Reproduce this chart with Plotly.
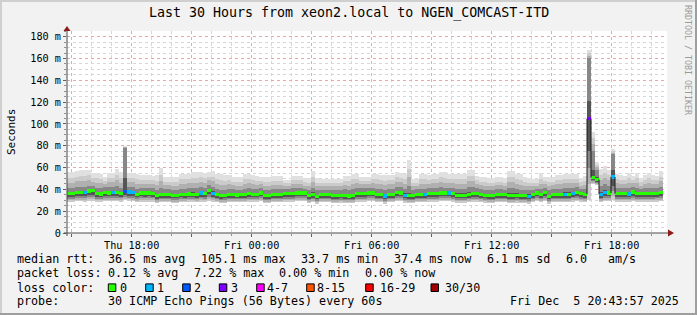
import plotly.graph_objects as go
import pandas as pd

# ---------------- data ----------------
START = "2025-12-04 14:46"
END = "2025-12-05 20:46"
STEP_MIN = 12

# median rtt per 12-minute step (ms)
med = [36.0, 36.0, 37.0, 37.2, 37.0, 38.5, 38.8, 36.0, 35.8, 37.0,
       36.8, 37.0, 37.2, 36.5, 38.0, 37.6, 37.4, 35.6, 36.8, 36.6,
       36.8, 36.4, 34.2, 35.2, 35.4, 35.0, 34.4, 34.4, 35.6, 35.4,
       35.8, 35.6, 35.2, 36.6, 36.0, 39.2, 36.4, 35.0, 34.2, 34.4,
       35.0, 35.2, 34.8, 35.0, 35.4, 36.0, 35.5, 35.5, 36.7, 34.3,
       34.3, 35.5, 35.5, 35.5, 36.1, 36.1, 36.1, 36.7, 36.7, 36.7,
       34.3, 35.5, 33.7, 35.2, 35.2, 35.2, 34.3, 34.3, 34.6, 34.3,
       34.0, 34.3, 36.1, 36.1, 36.0, 36.7, 36.7, 35.5, 35.5, 33.9,
       35.2, 35.2, 37.3, 36.7, 34.6, 34.3, 34.3, 35.5, 35.5, 35.2,
       36.1, 36.1, 36.1, 36.7, 36.7, 36.7, 36.1, 34.6, 34.6, 34.6,
       35.5, 36.1, 36.1, 35.2, 34.6, 34.3, 34.3, 35.2, 35.2, 35.2,
       34.3, 34.3, 34.6, 34.3, 34.3, 33.8, 35.0, 36.7, 35.2, 37.3,
       33.7, 35.5, 35.5, 35.5, 35.5, 35.5, 36.4, 37.3, 36.0, 35.5,
       104.8, 50.8, 49.0, 35.5, 37.2, 36.7, 51.4, 36.1, 36.1, 36.1,
       35.8, 37.5, 36.1, 36.1, 36.1, 36.1, 36.1, 36.4, 37.4]

# fastest ping per step (ms)
lo = [28.5, 28.5, 29, 29, 28.5, 29.5, 29.5, 28.5, 28.5, 29,
      29, 29, 29, 28.5, 30, 29, 29, 28, 28.5, 28.5,
      28.5, 28.5, 27.5, 28, 28, 28, 27.5, 27.5, 28, 28,
      28.5, 28.5, 28, 28.5, 28.5, 29.5, 28.5, 28, 27.5, 27.5,
      28, 28, 28, 28, 28, 28.5, 28.5, 28.5, 29, 27.5,
      27.5, 28, 28, 28, 28.5, 28.5, 28.5, 29, 29, 29,
      27.5, 28, 27, 28, 28, 28, 27.5, 27.5, 27.5, 27.5,
      27.5, 27.5, 28.5, 28.5, 28.5, 29, 29, 28, 28, 27,
      28, 28, 29, 29, 27.5, 27.5, 27.5, 28, 28, 28,
      28.5, 28.5, 28.5, 29, 29, 29, 28.5, 27.5, 27.5, 27.5,
      28, 28.5, 28.5, 28, 27.5, 27.5, 27.5, 28, 28, 28,
      27.5, 27.5, 27.5, 27.5, 27.5, 27, 28, 29, 28, 29,
      27, 28, 28, 28, 28, 28, 28.5, 29, 28.5, 28,
      30, 45, 44, 28, 29, 29, 30, 28.5, 28.5, 28.5,
      28.5, 29, 28.5, 28.5, 28.5, 28.5, 28.5, 28.5, 29]

# upper edge of the dense (mid-grey) part of the smoke (ms)
up = [41, 41, 42, 42, 42, 43, 43, 41, 41, 42,
      42, 42, 43, 41, 78, 42, 42, 40, 41, 41,
      41, 41, 39, 41, 40, 40, 39, 39, 40, 40,
      41, 41, 41, 42, 41, 44, 42, 40, 39, 39,
      40, 40, 39, 39, 40, 41, 40, 40, 41, 39,
      39, 40, 40, 40, 40, 40, 41, 41, 41, 40,
      39, 41, 39, 39, 39, 39, 39, 39, 39, 40,
      39, 40, 41, 41, 41, 41, 41, 40, 40, 39,
      40, 40, 42, 42, 40, 43, 39, 40, 40, 40,
      41, 41, 41, 42, 41, 41, 41, 40, 40, 40,
      42, 42, 41, 40, 39, 39, 39, 40, 40, 39,
      41, 41, 40, 39, 39, 39, 39, 40, 40, 41,
      39, 40, 40, 40, 41, 41, 41, 42, 40, 40,
      160, 75, 58, 43, 45, 43, 72, 41, 41, 41,
      41, 42, 41, 40, 41, 41, 41, 41, 42]

# slowest ping per step (ms)
hi = [56, 56, 57, 58, 58, 58, 55, 55, 54, 51,
      55, 55, 59, 56, 80, 55, 55, 54, 53, 53,
      53, 52, 53, 59.5, 51, 51, 51, 51, 54, 54,
      54, 56, 56, 56, 55, 56, 57, 54, 54, 53,
      53, 51, 51, 51, 54, 54, 53, 52, 51, 51,
      51, 52, 52, 52, 48.5, 48.5, 52, 52, 52, 50,
      50, 57, 50, 49.5, 49.5, 49.5, 49.5, 49.5, 49.5, 52,
      52, 54, 54, 51, 51, 51, 54, 54, 53, 53,
      53, 53, 56, 55, 54, 67, 49.5, 49.5, 54, 54,
      53, 54, 54, 56, 56, 54, 54, 54, 54, 54,
      58, 58, 52, 51, 51, 50, 50, 51, 51, 50,
      57, 57, 54, 54, 51, 50, 49.5, 49.5, 55, 51,
      51, 51, 53, 53, 54, 54, 54, 54, 50, 52,
      167.5, 93, 64, 59, 61, 58, 76.7, 54, 53, 52,
      55, 52, 55, 50, 53, 55, 53, 52, 57]

# lost pings (of 30) per step
loss = [0, 0, 0, 0, 1, 0, 0, 0, 0, 0,
        0, 1, 0, 0, 2, 1, 1, 0, 0, 0,
        0, 0, 0, 0, 0, 0, 0, 0, 0, 0,
        0, 0, 0, 1, 0, 0, 1, 0, 0, 0,
        0, 0, 0, 0, 0, 0, 0, 0, 0, 0,
        0, 0, 0, 0, 0, 0, 0, 0, 0, 0,
        0, 0, 0, 0, 0, 0, 0, 0, 0, 0,
        0, 0, 0, 0, 0, 0, 0, 0, 0, 1,
        0, 0, 0, 0, 1, 0, 0, 0, 0, 1,
        0, 0, 0, 0, 0, 1, 0, 0, 0, 0,
        0, 0, 0, 0, 0, 0, 0, 0, 0, 0,
        0, 0, 0, 0, 0, 1, 0, 0, 0, 0,
        0, 0, 0, 0, 1, 0, 1, 0, 0, 0,
        3, 0, 0, 1, 1, 0, 1, 0, 0, 0,
        1, 0, 0, 0, 0, 0, 0, 0, 0]

loss_labels = ["0", "1", "2", "3", "4-7", "8-15", "16-29", "30/30"]
loss_colors = ["#26ff00", "#00b8ff", "#0059ff", "#7e00ff", "#ff00ff", "#ff5500", "#ff0000", "#a00000"]

y_tickvals = [0, 20, 40, 60, 80, 100, 120, 140, 160, 180]
y_ticktext = ["0", "20 m", "40 m", "60 m", "80 m", "100 m", "120 m", "140 m", "160 m", "180 m"]
x_tickvals = ["2025-12-04 15:00", "2025-12-04 18:00", "2025-12-04 21:00", "2025-12-05 00:00",
              "2025-12-05 03:00", "2025-12-05 06:00", "2025-12-05 09:00", "2025-12-05 12:00",
              "2025-12-05 15:00", "2025-12-05 18:00"]
x_ticktext = ["", "Thu 18:00", "", "Fri 00:00", "", "Fri 06:00", "", "Fri 12:00", "", "Fri 18:00"]

TITLE = "Last 30 Hours from xeon2.local to NGEN_COMCAST-ITD"
legend_rows = [
    [("median rtt:", 16), ("36.5 ms avg", 107.3), ("105.1 ms max", 200.5), ("33.7 ms min", 300.5),
     ("37.4 ms now", 393.3), ("6.1 ms sd", 486), ("6.0", 565), ("am/s", 607.5)],
    [("packet loss:", 16), ("0.12 % avg", 107.3), ("7.22 % max", 193), ("0.00 % min", 278.8),
     ("0.00 % now", 364.8)],
    [("loss color:", 16)],
    [("probe:", 16), ("30 ICMP Echo Pings (56 Bytes) every 60s", 107.3)],
]
STAMP = "Fri Dec\u00a0 5 20:43:57 2025"

assert len(med) == len(lo) == len(up) == len(hi) == len(loss)

# ---------------- geometry ----------------
W, H = 697, 315
ML, MR, MT, MB = 67, 30, 31, 82
PW, PH = W - ML - MR, H - MT - MB
YMAX = 185.2


def px(x):
    return (x - ML) / PW


def py(y):
    return (H - MB - y) / PH


def loss_color(n):
    if n <= 3:
        return loss_colors[n]
    if n <= 7:
        return loss_colors[4]
    if n <= 15:
        return loss_colors[5]
    if n <= 29:
        return loss_colors[6]
    return loss_colors[7]


n = len(med)
t0 = pd.Timestamp(START)
centers = [t0 + pd.Timedelta(minutes=STEP_MIN * (i + 0.5)) for i in range(n)]
edges = [t0 + pd.Timedelta(minutes=STEP_MIN * i) for i in range(n + 1)]
wms = STEP_MIN * 60 * 1000

fig = go.Figure()

# smoke: nested grey bands, darkest around the median
layers = [
    (lambda i: lo[i], lambda i: hi[i], "#e0e0e0"),
    (lambda i: lo[i], lambda i: up[i] + 0.65 * (hi[i] - up[i]), "#cbcbcb"),
    (lambda i: lo[i] + 0.2 * (med[i] - lo[i]), lambda i: up[i] + 0.35 * (hi[i] - up[i]), "#b0b0b0"),
    (lambda i: lo[i] + 0.4 * (med[i] - lo[i]), lambda i: up[i], "#878787"),
    (lambda i: lo[i] + 0.6 * (med[i] - lo[i]), lambda i: med[i] + 0.3 * (up[i] - med[i]), "#555555"),
]
for flo, fhi, col in layers:
    b = [flo(i) for i in range(n)]
    h = [fhi(i) - flo(i) for i in range(n)]
    fig.add_trace(go.Bar(x=centers, y=h, base=b, width=wms, marker=dict(color=col, line=dict(width=0)),
                         hoverinfo="skip", showlegend=False))

# dark vertical transitions of the median where it jumps a lot
jx, jy = [], []
for i in range(n - 1):
    if abs(med[i + 1] - med[i]) > 5:
        jx += [edges[i + 1], edges[i + 1], None]
        jy += [med[i], med[i + 1], None]
fig.add_trace(go.Scatter(x=jx, y=jy, mode="lines", line=dict(color="#1a1a1a", width=1),
                         hoverinfo="skip", showlegend=False))

# median coloured by loss
fig.add_trace(go.Bar(x=centers, y=[3.0] * n, base=[m - 1.5 for m in med], width=wms,
                     marker=dict(color=[loss_color(v) for v in loss], line=dict(width=0)),
                     hoverinfo="skip", showlegend=False))

MONO = "DejaVu Sans Mono"

fig.update_layout(
    width=W, height=H, margin=dict(l=ML, r=MR, t=MT, b=MB, pad=0),
    paper_bgcolor="#f2f2f2", plot_bgcolor="#ffffff",
    barmode="overlay", bargap=0, showlegend=False,
    font=dict(family=MONO, color="#000000", size=10.2),
)

fig.update_xaxes(
    type="date", range=[START, END], showline=False, zeroline=False,
    tickvals=x_tickvals, ticktext=x_ticktext, tickangle=0,
    showgrid=True, gridcolor="#e8a8a8", griddash="dot", gridwidth=1,
    ticks="outside", ticklen=3, tickcolor="#606060",
    tickfont=dict(family=MONO, size=10.2),
    minor=dict(dtick=3600000, tick0="2025-12-04 15:00", showgrid=True, gridcolor="#d6d6d6",
               griddash="dot", gridwidth=1, ticks="outside", ticklen=2, tickcolor="#909090"),
)
fig.update_yaxes(
    range=[0, YMAX], showline=False, zeroline=False,
    tickvals=y_tickvals, ticktext=y_ticktext,
    showgrid=True, gridcolor="#e8a8a8", griddash="dot", gridwidth=1,
    ticks="outside", ticklen=3, tickcolor="#606060",
    tickfont=dict(family=MONO, size=10.2),
    minor=dict(dtick=5, tick0=0, showgrid=True, gridcolor="#d6d6d6", griddash="dot", gridwidth=1,
               ticks="outside", ticklen=2, tickcolor="#909090"),
)

shapes = []
# frame of the image
shapes.append(dict(type="rect", xref="paper", yref="paper", x0=px(0), x1=px(W), y0=py(2), y1=py(0),
                   fillcolor="#cfcfcf", line=dict(width=0), layer="below"))
shapes.append(dict(type="rect", xref="paper", yref="paper", x0=px(0), x1=px(2), y0=py(H), y1=py(0),
                   fillcolor="#cfcfcf", line=dict(width=0), layer="below"))
shapes.append(dict(type="rect", xref="paper", yref="paper", x0=px(W - 2), x1=px(W), y0=py(H), y1=py(0),
                   fillcolor="#9e9e9e", line=dict(width=0), layer="below"))
shapes.append(dict(type="rect", xref="paper", yref="paper", x0=px(0), x1=px(W), y0=py(H), y1=py(H - 2),
                   fillcolor="#9e9e9e", line=dict(width=0), layer="below"))
# axes with arrows
AX = "#4a4a4a"
ARROW = "#8e1b1b"
shapes.append(dict(type="line", xref="paper", yref="paper", x0=px(67), x1=px(67), y0=py(236), y1=py(29),
                   line=dict(color=AX, width=1)))
shapes.append(dict(type="line", xref="paper", yref="paper", x0=px(64), x1=px(669), y0=py(233), y1=py(233),
                   line=dict(color=AX, width=1)))


def tri(pts):
    return "M " + " L ".join(f"{px(a)},{py(b)}" for a, b in pts) + " Z"


shapes.append(dict(type="path", xref="paper", yref="paper", path=tri([(63.5, 31), (70.5, 31), (67, 26)]),
                   fillcolor=ARROW, line=dict(width=0)))
shapes.append(dict(type="path", xref="paper", yref="paper", path=tri([(668, 229.5), (668, 236.5), (674, 233)]),
                   fillcolor=ARROW, line=dict(width=0)))

annotations = []
annotations.append(dict(text=TITLE, x=px(348.5), y=py(13), xref="paper", yref="paper", showarrow=False,
                        xanchor="center", yanchor="middle", font=dict(family=MONO, size=13.3)))
annotations.append(dict(text="Seconds", x=px(11), y=py(132), xref="paper", yref="paper", showarrow=False,
                        xanchor="center", yanchor="middle", textangle=-90, font=dict(family=MONO, size=11)))
annotations.append(dict(text="RRDTOOL / TOBI OETIKER", x=px(688), y=py(60), xref="paper", yref="paper",
                        showarrow=False, xanchor="center", yanchor="middle", textangle=90,
                        font=dict(family=MONO, size=8.3, color="#9a9a9a")))

row_y = [259, 273.3, 287.7, 301.3]
for row, yy in zip(legend_rows, row_y):
    for txt, xx in row:
        annotations.append(dict(text=txt, x=px(xx - 1.5), y=py(yy), xref="paper", yref="paper", showarrow=False,
                                xanchor="left", yanchor="middle", font=dict(family=MONO, size=11.7)))
annotations.append(dict(text=STAMP, x=px(681), y=py(row_y[3]), xref="paper", yref="paper", showarrow=False,
                        xanchor="right", yanchor="middle", font=dict(family=MONO, size=11.7)))

box_x = [108.3, 145.7, 182.7, 219.3, 256.7, 306.7, 365.7, 431]
lab_x = [119.3, 156.7, 193.7, 230, 266.7, 316.7, 379.3, 445]
for bx, lx, lab, col in zip(box_x, lab_x, loss_labels, loss_colors):
    shapes.append(dict(type="rect", xref="paper", yref="paper", x0=px(bx), x1=px(bx + 7.5),
                       y0=py(row_y[2] + 3.8), y1=py(row_y[2] - 3.8), fillcolor=col, line=dict(color="#000000", width=1)))
    annotations.append(dict(text=lab, x=px(lx - 1.5), y=py(row_y[2]), xref="paper", yref="paper", showarrow=False,
                            xanchor="left", yanchor="middle", font=dict(family=MONO, size=11.7)))

fig.update_layout(shapes=shapes, annotations=annotations)
fig.write_html("out.html")
